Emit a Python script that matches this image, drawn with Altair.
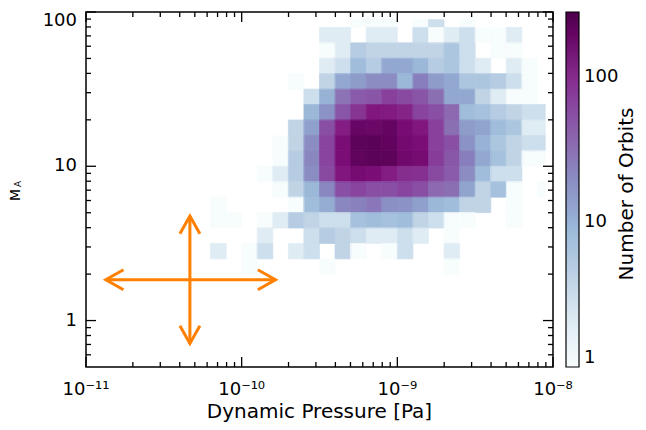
import altair as alt
import pandas as pd

FONT = "DejaVu Sans"
ORANGE = "#ff8000"
W, H = 467, 355

# ---------------- 2-D histogram: counts per 0.1-dex cell ----------------
# columns k = 8..29  (log10 left edge = -11 + 0.1*k)
# rows    j = 9..-7  (log10 lower edge = 1 + 0.1*j), listed top to bottom
COL_K0 = 8
ROW_J_TOP = 9
X_HIST_MAX_LOG = -8.05   # histogram image stops half a bin before the frame
Y_HIST_MAX_LOG = 1.95

counts = [
    [0, 0, 0, 0, 0, 0, 0, 0, 0, 1, 1, 1, 0, 1, 3, 0, 1, 0, 0, 0, 0, 0],
    [0, 0, 0, 0, 0, 0, 0, 2, 2, 0, 2, 2, 0, 3, 1, 2, 3, 1, 1, 2, 0, 0],
    [0, 0, 0, 0, 0, 0, 0, 1, 2, 5, 4, 4, 4, 4, 4, 6, 3, 0, 1, 1, 0, 0],
    [0, 0, 0, 0, 0, 0, 0, 2, 3, 8, 5, 12, 12, 9, 5, 6, 3, 2, 0, 2, 1, 0],
    [0, 0, 0, 0, 0, 1, 0, 4, 12, 15, 20, 20, 9, 25, 15, 12, 6, 6, 5, 3, 1, 0],
    [0, 0, 0, 0, 0, 0, 3, 10, 30, 45, 50, 70, 60, 50, 32, 12, 12, 4, 2, 1, 1, 0],
    [0, 0, 0, 0, 0, 0, 9, 18, 50, 85, 130, 125, 110, 65, 55, 35, 8, 7, 5, 4, 3, 3],
    [0, 0, 0, 0, 0, 4, 14, 55, 120, 195, 185, 200, 155, 130, 70, 32, 15, 13, 8, 6, 2, 2],
    [0, 0, 0, 0, 1, 4, 20, 65, 150, 225, 235, 210, 165, 150, 70, 55, 18, 10, 6, 4, 3, 3],
    [0, 0, 0, 0, 1, 5, 22, 65, 150, 215, 230, 225, 170, 160, 75, 48, 25, 12, 7, 4, 1, 1],
    [0, 0, 0, 1, 2, 5, 20, 60, 130, 160, 150, 120, 95, 90, 60, 45, 20, 8, 3, 3, 0, 0],
    [0, 0, 0, 0, 1, 4, 9, 22, 55, 65, 55, 55, 65, 55, 35, 32, 13, 4, 7, 1, 0, 1],
    [1, 0, 0, 0, 0, 1, 8, 11, 22, 24, 28, 19, 18, 14, 9, 8, 4, 4, 0, 1, 0, 0],
    [1, 1, 0, 1, 2, 5, 4, 3, 3, 7, 8, 7, 8, 4, 3, 1, 1, 0, 0, 1, 0, 0],
    [0, 0, 0, 2, 0, 0, 3, 5, 4, 3, 2, 2, 3, 2, 0, 1, 0, 0, 0, 0, 0, 0],
    [2, 0, 1, 3, 0, 2, 3, 0, 4, 1, 0, 1, 3, 0, 0, 2, 0, 0, 0, 0, 0, 0],
    [0, 0, 1, 0, 0, 0, 0, 1, 0, 0, 0, 0, 0, 0, 0, 1, 0, 0, 0, 0, 0, 0],
]

# ---------------- arrows (uncertainty cross) ----------------
arrow_center = (4.65e-11, 1.84)
arrow_x_range = (1.34e-11, 1.65e-10)
arrow_y_range = (0.71, 4.76)

# ---------------- axes / ticks / text ----------------
x_domain = [1e-11, 1e-8]
y_domain = [0.5, 100]
x_major = [1e-11, 1e-10, 1e-9, 1e-8]
x_major_labels = ["10\u207b\u00b9\u00b9", "10\u207b\u00b9\u2070", "10\u207b\u2079", "10\u207b\u2078"]
x_minor_decades = [1e-11, 1e-10, 1e-9]
y_major = [1, 10, 100]
y_major_labels = ["1", "10", "100"]
y_minor_decades = [0.1, 1, 10]
minor_mantissas = [2, 3, 4, 5, 6, 7, 8, 9]
cbar_values = [1, 10, 100]
cbar_domain = (1, 280)
bupu = ["#f7fcfd", "#e0ecf4", "#bfd3e6", "#9ebcda", "#8c96c6",
        "#8c6bb1", "#88419d", "#810f7c", "#4d004b"]

x_title = "Dynamic Pressure [Pa]"
y_title_main, y_title_sub = "M", "A"
cbar_title = "Number of Orbits"

# ---------------- build tables ----------------
recs = []
for r, row in enumerate(counts):
    j = ROW_J_TOP - r
    for c, v in enumerate(row):
        if v > 0:
            k = COL_K0 + c
            xl = -11 + 0.1 * k
            xh = min(xl + 0.1, X_HIST_MAX_LOG)
            yl = 1 + 0.1 * j
            yh = min(yl + 0.1, Y_HIST_MAX_LOG)
            recs.append(dict(x1=10 ** xl, x2=10 ** xh, y1=10 ** yl, y2=10 ** yh, n=v))
hist = pd.DataFrame(recs)

xmin_df = pd.DataFrame({"v": [m * d for d in x_minor_decades for m in minor_mantissas]})
ymin_df = pd.DataFrame({"v": [m * d for d in y_minor_decades for m in minor_mantissas
                               if y_domain[0] < m * d < y_domain[1]]})
xmaj_df = pd.DataFrame({"v": x_major, "t": x_major_labels})
ymaj_df = pd.DataFrame({"v": y_major, "t": y_major_labels})

xc, yc = arrow_center
shaft_df = pd.DataFrame([
    dict(x=arrow_x_range[0], x2=arrow_x_range[1], y=yc, y2=yc),
    dict(x=xc, x2=xc, y=arrow_y_range[0], y2=arrow_y_range[1]),
])
direction_angle = {"right": 0, "down": 90, "left": 180, "up": 270}
head_df = pd.DataFrame([
    dict(x=arrow_x_range[0], y=yc, d="left"),
    dict(x=arrow_x_range[1], y=yc, d="right"),
    dict(x=xc, y=arrow_y_range[1], d="up"),
    dict(x=xc, y=arrow_y_range[0], d="down"),
])
head_df["angle"] = head_df["d"].map(direction_angle)

# ---------------- scales ----------------
xscale = alt.Scale(type="log", domain=x_domain, nice=False)
yscale = alt.Scale(type="log", domain=y_domain, nice=False)
lo, hi = cbar_domain
stops = [lo * (hi / lo) ** (i / (len(bupu) - 1)) for i in range(len(bupu))]
cscale = alt.Scale(type="log", domain=stops, range=bupu)
# identical mapping, written in reverse order so it is kept apart from the colour legend
edge_scale = alt.Scale(type="log", domain=stops[::-1], range=bupu[::-1])

legend = alt.Legend(type="gradient", orient="right", offset=13, gradientLength=H,
                    gradientThickness=13, gradientStrokeColor="black",
                    gradientStrokeWidth=1.2, values=cbar_values, format="d",
                    labelFontSize=18, labelFont=FONT, labelColor="black",
                    labelOffset=5, labelOverlap=False, padding=0, title=None,
                    direction="vertical")

X = lambda f: alt.X(f, scale=xscale, axis=None)
Y = lambda f: alt.Y(f, scale=yscale, axis=None)

heat = alt.Chart(hist).mark_rect().encode(
    x=X("x1:Q"), x2="x2:Q", y=Y("y1:Q"), y2="y2:Q",
    color=alt.Color("n:Q", scale=cscale, legend=legend),
)
# thin same-colour outline to hide anti-aliasing seams between cells
heat_edges = alt.Chart(hist).mark_rect(fillOpacity=0, strokeWidth=0.8).encode(
    x=X("x1:Q"), x2="x2:Q", y=Y("y1:Q"), y2="y2:Q",
    stroke=alt.Stroke("n:Q", scale=edge_scale, legend=None),
)


def xticks(df, length):
    base = alt.Chart(df).mark_rule(color="black", strokeWidth=1.3)
    return [base.encode(x=X("v:Q"), y=alt.value(H), y2=alt.value(H - length)),
            base.encode(x=X("v:Q"), y=alt.value(0), y2=alt.value(length))]


def yticks(df, length):
    base = alt.Chart(df).mark_rule(color="black", strokeWidth=1.3)
    return [base.encode(y=Y("v:Q"), x=alt.value(0), x2=alt.value(length)),
            base.encode(y=Y("v:Q"), x=alt.value(W), x2=alt.value(W - length))]


ticks = xticks(xmaj_df, 10) + xticks(xmin_df, 5) + yticks(ymaj_df, 10) + yticks(ymin_df, 5)

# tick labels (as text through the scales)
txt = dict(font=FONT, color="black")
x_labels = alt.Chart(xmaj_df).mark_text(fontSize=18, align="center", baseline="alphabetic", **txt).encode(
    x=X("v:Q"), y=alt.value(H + 28), text="t:N")
y_labels_low = alt.Chart(ymaj_df).transform_filter(f"datum.v < {y_domain[1]}").mark_text(
    fontSize=18, align="right", baseline="middle", **txt).encode(
    y=Y("v:Q"), x=alt.value(-9), text="t:N")
y_labels_top = alt.Chart(ymaj_df).transform_filter(f"datum.v >= {y_domain[1]}").mark_text(
    fontSize=18, align="right", baseline="top", **txt).encode(
    y=Y("v:Q"), x=alt.value(-9), text="t:N")

shafts = alt.Chart(shaft_df).mark_rule(color=ORANGE, strokeWidth=3).encode(
    x=X("x:Q"), x2="x2:Q", y=Y("y:Q"), y2="y2:Q")
heads = alt.Chart(head_df).mark_point(
    shape="M -1 -0.565 L 0 0 L -1 0.565", size=1253, filled=False,
    color=ORANGE, strokeWidth=3, opacity=1,
).encode(x=X("x:Q"), y=Y("y:Q"), angle=alt.Angle("angle:Q", scale=None))

x_title_t = alt.Chart(pd.DataFrame({"t": [x_title]})).mark_text(
    fontSize=20, align="center", baseline="alphabetic", **txt
).encode(text="t:N", x=alt.value(W / 2), y=alt.value(H + 51))
cbar_text = alt.Chart(pd.DataFrame({"t": [cbar_title]})).mark_text(
    angle=270, fontSize=20, align="center", baseline="alphabetic", **txt
).encode(text="t:N", x=alt.value(W + 80), y=alt.value(182))
m_text = alt.Chart(pd.DataFrame({"t": [y_title_main]})).mark_text(
    angle=270, fontSize=14, align="center", baseline="middle", **txt
).encode(text="t:N", x=alt.value(-70), y=alt.value(183))
a_text = alt.Chart(pd.DataFrame({"t": [y_title_sub]})).mark_text(
    angle=270, fontSize=9, align="center", baseline="middle", **txt
).encode(text="t:N", x=alt.value(-68), y=alt.value(172))

chart = alt.layer(
    heat, heat_edges, *ticks, x_labels, y_labels_low, y_labels_top, shafts, heads,
    x_title_t, cbar_text, m_text, a_text,
).properties(
    width=W, height=H,
    padding={"left": 78, "top": 4, "right": 85, "bottom": 55},
    autosize=alt.AutoSizeParams(type="none"),
).configure_view(stroke="black", strokeWidth=1.5)

chart.save("out.html", embed_options={"renderer": "svg", "actions": False})
